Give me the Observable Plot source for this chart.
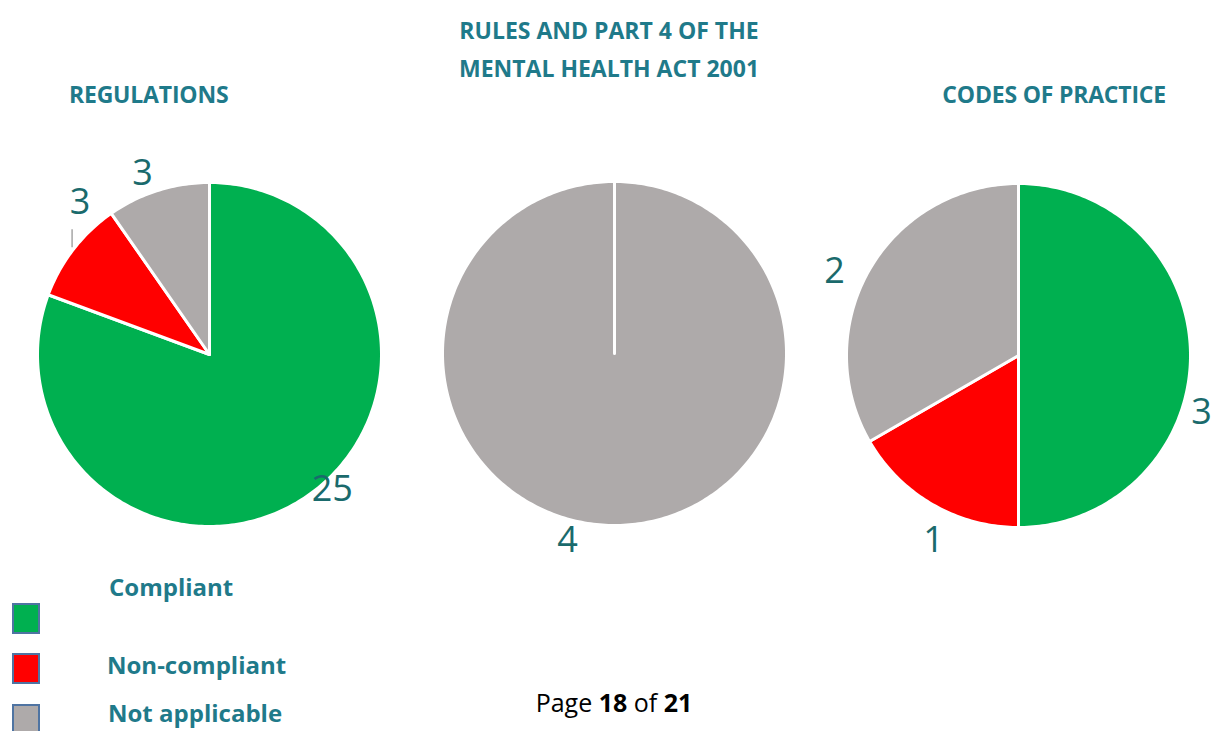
<!DOCTYPE html>
<html>
<head>
<meta charset="utf-8">
<script src="https://cdn.jsdelivr.net/npm/d3@7"></script>
<script src="https://cdn.jsdelivr.net/npm/@observablehq/plot@0.6"></script>
<style>
  html, body { margin: 0; padding: 0; background: #ffffff; }
  #wrap { position: relative; width: 1217px; height: 731px; overflow: hidden; font-family: "Open Sans", "Noto Sans", sans-serif; }
  #chart { position: absolute; left: 0; top: 0; }
  .t { position: absolute; line-height: 1; white-space: nowrap; font-weight: 700; color: #1F7A8A; }
  .sw { position: absolute; box-sizing: border-box; width: 28px; height: 31px; border: 2px solid #4F74A2; }
</style>
</head>
<body>
<div id="wrap">
  <div id="chart"></div>
  <div class="t" id="t1" style="font-size:23px; left:69px; top:83px; letter-spacing:-0.2px;">REGULATIONS</div>
  <div class="t" id="t2" style="font-size:23px; left:409px; width:400px; text-align:center; top:11px; line-height:38px;">RULES AND PART 4 OF THE<br>MENTAL HEALTH ACT 2001</div>
  <div class="t" id="t3" style="font-size:23px; right:51px; top:83px; letter-spacing:-0.2px;">CODES OF PRACTICE</div>
  <div id="legend"></div>
  <div class="t" style="font-size:25px; left:414px; width:400px; text-align:center; top:690px; font-weight:400; color:#000;">Page <b>18</b> of <b>21</b></div>
</div>
<script>
// ---- data ----
const categories = ["Compliant", "Non-compliant", "Not applicable"];
const pies = ["Regulations", "Rules and Part 4 of the Mental Health Act 2001", "Codes of Practice"];
const regulations = [25, 3, 3];
const rulesPart4 = [0, 0, 4];
const codesOfPractice = [3, 1, 2];
const colors = ["#00B050", "#FF0000", "#AEAAAA"];

// ---- layout ----
const W = 1217, H = 731;
const R = 172;
const centers = [[209, 354], [614, 353], [1018, 355]];
// label nudges (px) from the default outside-end position, per pie & category
const labelNudge = [
  [[12, -24], [24, -33], [-9, 4]],
  [[0, 0], [0, 0], [-47, -7]],
  [[-11, 57], [12, 17], [-16, 13]]
];
const labelRadius = 194;

const series = [regulations, rulesPart4, codesOfPractice];
const slices = [];
const labels = [];
const leaders = [];
series.forEach((vals, i) => {
  const [cx, cy] = centers[i];
  const arcs = d3.pie().sort(null).value(d => d)(vals);
  arcs.forEach((a, j) => {
    if (!a.value) return;
    const id = pies[i] + "|" + categories[j];
    const n = Math.max(2, Math.ceil((a.endAngle - a.startAngle) / (Math.PI / 180)));
    slices.push({id, category: categories[j], x: cx, y: cy});
    for (let k = 0; k <= n; k++) {
      const ang = a.startAngle + (a.endAngle - a.startAngle) * k / n;
      slices.push({id, category: categories[j], x: cx + R * Math.sin(ang), y: cy - R * Math.cos(ang)});
    }
    slices.push({id, category: categories[j], x: cx, y: cy});
    const mid = (a.startAngle + a.endAngle) / 2;
    const [nx, ny] = labelNudge[i][j];
    const lx = cx + labelRadius * Math.sin(mid) + nx;
    const ly = cy - labelRadius * Math.cos(mid) + ny;
    labels.push({x: lx, y: ly, text: String(a.value)});
    if (i === 0 && j === 1) leaders.push({x: lx - 8, y1: ly + 27, y2: ly + 45});
  });
});

const chart = Plot.plot({
  width: W,
  height: H,
  margin: 0,
  x: {domain: [0, W], range: [0, W], axis: null},
  y: {domain: [0, H], range: [0, H], axis: null},
  color: {domain: categories, range: colors},
  style: {background: "transparent"},
  marks: [
    Plot.line(slices, {x: "x", y: "y", z: "id", fill: "category", stroke: "white", strokeWidth: 3, strokeLinejoin: "round", curve: "linear"}),
    Plot.ruleX(leaders, {x: "x", y1: "y1", y2: "y2", stroke: "#A6A6A6", strokeWidth: 1.5}),
    Plot.text(labels, {x: "x", y: "y", text: "text", fill: "#1A6A6C", fontSize: 36, fontFamily: "Open Sans, sans-serif", fontWeight: 400})
  ]
});
document.getElementById("chart").appendChild(chart);

// ---- legend (HTML) ----
const legend = document.getElementById("legend");
const swatchTops = [603, 653, 704];
const labelPos = [[109, 575], [107, 653], [108, 701]];
categories.forEach((c, i) => {
  const sw = document.createElement("div");
  sw.className = "sw";
  sw.style.left = "12px";
  sw.style.top = swatchTops[i] + "px";
  sw.style.background = colors[i];
  legend.appendChild(sw);
  const t = document.createElement("div");
  t.className = "t";
  t.style.fontSize = "24px";
  t.style.left = labelPos[i][0] + "px";
  t.style.top = labelPos[i][1] + "px";
  t.textContent = c;
  legend.appendChild(t);
});
</script>
</body>
</html>
